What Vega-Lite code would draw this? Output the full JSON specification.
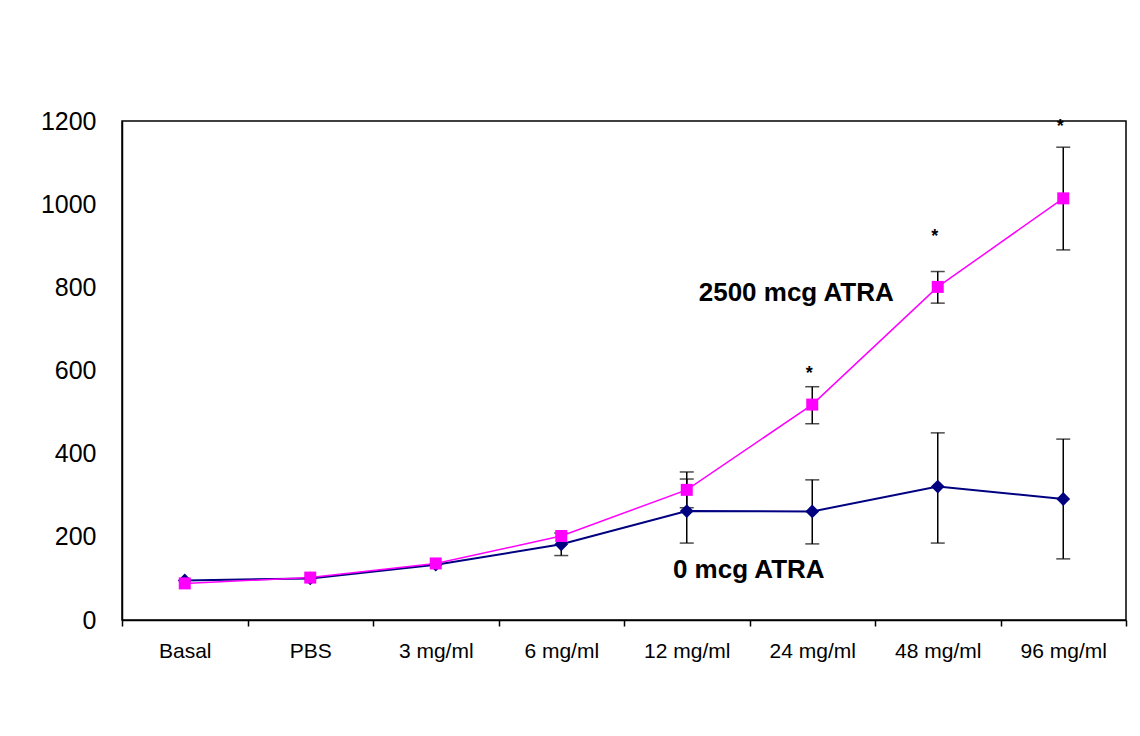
{
  "$schema": "https://vega.github.io/schema/vega-lite/v6.json",
  "width": 1004,
  "height": 499,
  "autosize": {"type": "none"},
  "padding": {"left": 122, "top": 121, "right": 14, "bottom": 116},
  "background": "white",
  "config": {
    "view": {"stroke": "black", "strokeWidth": 1.5},
    "font": "Liberation Sans"
  },
  "datasets": {
    "series": [
      {"cond": "Basal", "series": "0 mcg ATRA", "mean": 95, "lo": null, "hi": null},
      {"cond": "PBS", "series": "0 mcg ATRA", "mean": 100, "lo": null, "hi": null},
      {"cond": "3 mg/ml", "series": "0 mcg ATRA", "mean": 133, "lo": null, "hi": null},
      {"cond": "6 mg/ml", "series": "0 mcg ATRA", "mean": 182, "lo": 155, "hi": 209},
      {"cond": "12 mg/ml", "series": "0 mcg ATRA", "mean": 262, "lo": 185, "hi": 339},
      {"cond": "24 mg/ml", "series": "0 mcg ATRA", "mean": 261, "lo": 183, "hi": 337},
      {"cond": "48 mg/ml", "series": "0 mcg ATRA", "mean": 321, "lo": 185, "hi": 450},
      {"cond": "96 mg/ml", "series": "0 mcg ATRA", "mean": 291, "lo": 147, "hi": 435},
      {"cond": "Basal", "series": "2500 mcg ATRA", "mean": 88, "lo": null, "hi": null},
      {"cond": "PBS", "series": "2500 mcg ATRA", "mean": 102, "lo": null, "hi": null},
      {"cond": "3 mg/ml", "series": "2500 mcg ATRA", "mean": 136, "lo": null, "hi": null},
      {"cond": "6 mg/ml", "series": "2500 mcg ATRA", "mean": 202, "lo": null, "hi": null},
      {"cond": "12 mg/ml", "series": "2500 mcg ATRA", "mean": 313, "lo": 270, "hi": 356},
      {"cond": "24 mg/ml", "series": "2500 mcg ATRA", "mean": 518, "lo": 472, "hi": 561},
      {"cond": "48 mg/ml", "series": "2500 mcg ATRA", "mean": 801, "lo": 762, "hi": 838},
      {"cond": "96 mg/ml", "series": "2500 mcg ATRA", "mean": 1014, "lo": 890, "hi": 1137}
    ],
    "stars": [
      {"cond": "24 mg/ml", "y": 580, "text": "*"},
      {"cond": "48 mg/ml", "y": 909, "text": "*"},
      {"cond": "96 mg/ml", "y": 1174, "text": "*"}
    ],
    "labelHigh": [{"cond": "24 mg/ml", "y": 787, "text": "2500 mcg ATRA"}],
    "labelLow": [{"cond": "12 mg/ml", "y": 120, "text": "0 mcg ATRA"}]
  },
  "encoding": {
    "x": {
      "field": "cond",
      "type": "nominal",
      "sort": null,
      "scale": {
        "type": "band",
        "domain": ["Basal", "PBS", "3 mg/ml", "6 mg/ml", "12 mg/ml", "24 mg/ml", "48 mg/ml", "96 mg/ml"],
        "paddingInner": 0,
        "paddingOuter": 0
      },
      "axis": {
        "title": null,
        "labelAngle": 0,
        "tickBand": "extent",
        "tickSize": 6,
        "tickColor": "black",
        "tickWidth": 1.5,
        "domainColor": "black",
        "domainWidth": 1.5,
        "labelFontSize": 21,
        "labelColor": "black",
        "labelPadding": 14,
        "labelFont": "Liberation Sans"
      }
    }
  },
  "layer": [
    {
      "data": {"name": "series"},
      "transform": [{"filter": "datum.lo != null"}],
      "mark": {"type": "rule", "color": "black", "strokeWidth": 1.5},
      "encoding": {
        "y": {
          "field": "lo",
          "type": "quantitative",
          "scale": {"domain": [0, 1200], "nice": false},
          "axis": {
            "title": null,
            "values": [0, 200, 400, 600, 800, 1000, 1200],
            "format": "d",
            "ticks": false,
            "tickSize": 0,
            "grid": false,
            "labelPadding": 26,
            "labelFontSize": 25,
            "labelColor": "black",
            "labelFont": "Liberation Sans",
            "domainColor": "black",
            "domainWidth": 1.5
          }
        },
        "y2": {"field": "hi"}
      }
    },
    {
      "data": {"name": "series"},
      "transform": [{"filter": "datum.lo != null"}],
      "mark": {"type": "tick", "color": "black", "size": 14, "thickness": 1.5},
      "encoding": {"y": {"field": "lo", "type": "quantitative"}}
    },
    {
      "data": {"name": "series"},
      "transform": [{"filter": "datum.lo != null"}],
      "mark": {"type": "tick", "color": "black", "size": 14, "thickness": 1.5},
      "encoding": {"y": {"field": "hi", "type": "quantitative"}}
    },
    {
      "data": {"name": "series"},
      "mark": {"type": "line"},
      "encoding": {
        "y": {"field": "mean", "type": "quantitative"},
        "color": {
          "field": "series",
          "type": "nominal",
          "scale": {"domain": ["0 mcg ATRA", "2500 mcg ATRA"], "range": ["#000080", "#FF00FF"]},
          "legend": null
        },
        "strokeWidth": {
          "field": "series",
          "type": "nominal",
          "scale": {"domain": ["0 mcg ATRA", "2500 mcg ATRA"], "range": [2, 1.5]},
          "legend": null
        }
      }
    },
    {
      "data": {"name": "series"},
      "mark": {"type": "point", "filled": true, "opacity": 1},
      "encoding": {
        "y": {"field": "mean", "type": "quantitative"},
        "color": {
          "field": "series",
          "type": "nominal",
          "scale": {"domain": ["0 mcg ATRA", "2500 mcg ATRA"], "range": ["#000080", "#FF00FF"]},
          "legend": null
        },
        "shape": {
          "field": "series",
          "type": "nominal",
          "scale": {"domain": ["0 mcg ATRA", "2500 mcg ATRA"], "range": ["diamond", "square"]},
          "legend": null
        },
        "size": {
          "field": "series",
          "type": "nominal",
          "scale": {"domain": ["0 mcg ATRA", "2500 mcg ATRA"], "range": [190, 144]},
          "legend": null
        }
      }
    },
    {
      "data": {"name": "stars"},
      "mark": {"type": "text", "fontSize": 18, "fontWeight": "bold", "color": "black", "baseline": "alphabetic", "dx": -3},
      "encoding": {
        "y": {"field": "y", "type": "quantitative"},
        "text": {"field": "text"}
      }
    },
    {
      "data": {"name": "labelHigh"},
      "mark": {"type": "text", "fontSize": 26, "fontWeight": "bold", "color": "black", "baseline": "middle", "align": "center", "dx": -16},
      "encoding": {
        "y": {"field": "y", "type": "quantitative"},
        "text": {"field": "text"}
      }
    },
    {
      "data": {"name": "labelLow"},
      "mark": {"type": "text", "fontSize": 26, "fontWeight": "bold", "color": "black", "baseline": "middle", "align": "center", "dx": 62},
      "encoding": {
        "y": {"field": "y", "type": "quantitative"},
        "text": {"field": "text"}
      }
    }
  ]
}
